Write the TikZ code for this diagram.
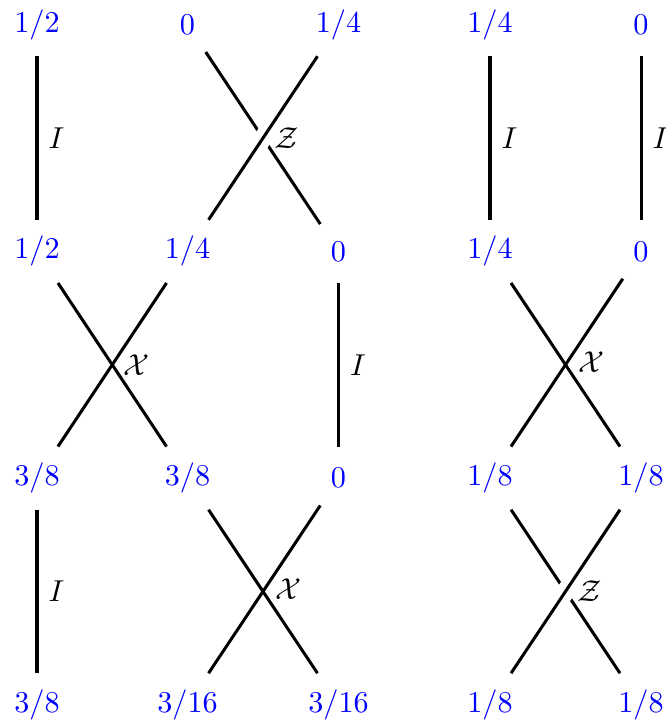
\documentclass[tikz,border=0pt]{standalone}
\begin{document}
\begin{tikzpicture}[x=0.3311pt,y=-0.3311pt,
  lab/.style={text=blue, minimum height=20.5pt},
  strand/.style={line width=1pt},
  over/.style={strand, preaction={draw=white, line width=6pt}},
  gate/.style={right, text=black}]
\useasboundingbox (0,0) rectangle (665,723);
% row 0
\node[lab] (a0) at (37,24.7)    {$1/2$};
\node[lab] (b0) at (187.5,24.7) {$0$};
\node[lab] (c0) at (338.5,24.7) {$1/4$};
\node[lab] (d0) at (490,24.7)   {$1/4$};
\node[lab] (e0) at (641,24.7)   {$0$};
% row 1
\node[lab] (a1) at (37,251.4)    {$1/2$};
\node[lab] (b1) at (187.5,251.4) {$1/4$};
\node[lab] (c1) at (338.5,251.4) {$0$};
\node[lab] (d1) at (490,251.4)   {$1/4$};
\node[lab] (e1) at (641,251.4)   {$0$};
% row 2
\node[lab] (a2) at (37,478.1)    {$3/8$};
\node[lab] (b2) at (187.5,478.1) {$3/8$};
\node[lab] (c2) at (338.5,478.1) {$0$};
\node[lab] (d2) at (490,478.1)   {$1/8$};
\node[lab] (e2) at (641,478.1)   {$1/8$};
% row 3
\node[lab] (a3) at (37,704.8)    {$3/8$};
\node[lab] (b3) at (187.5,704.8) {$3/16$};
\node[lab] (c3) at (338.5,704.8) {$3/16$};
\node[lab] (d3) at (490,704.8)   {$1/8$};
\node[lab] (e3) at (641,704.8)   {$1/8$};
% layer 0 -> 1
\draw[strand] (a0) -- node[gate] {$I$} (a1);
\draw[strand] (b0) -- (c1);
\draw[over] (b1) -- node[gate] {$\mathcal{Z}$} (c0);
\draw[strand] (d0) -- node[gate] {$I$} (d1);
\draw[strand] (e0) -- node[gate] {$I$} (e1);
% layer 1 -> 2
\draw[strand] (a1) -- (b2);
\draw[strand] (b1) -- node[gate] {$\mathcal{X}$} (a2);
\draw[strand] (c1) -- node[gate] {$I$} (c2);
\draw[strand] (d1) -- (e2);
\draw[strand] (e1) -- node[gate] {$\mathcal{X}$} (d2);
% layer 2 -> 3
\draw[strand] (a2) -- node[gate] {$I$} (a3);
\draw[strand] (b2) -- (c3);
\draw[strand] (c2) -- node[gate] {$\mathcal{X}$} (b3);
\draw[strand] (d2) -- (e3);
\draw[over] (d3) -- node[gate] {$\mathcal{Z}$} (e2);
\end{tikzpicture}
\end{document}
